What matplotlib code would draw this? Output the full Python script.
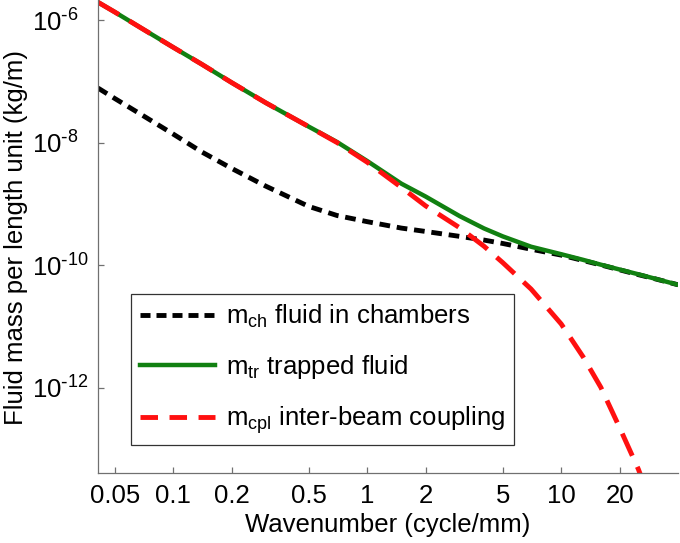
import matplotlib
matplotlib.use('Agg')
import matplotlib.pyplot as plt
from matplotlib.lines import Line2D

plt.rcParams['font.family'] = ['Liberation Sans', 'DejaVu Sans']
plt.rcParams['mathtext.default'] = 'regular'

# values (wavenumber in cycle/mm, mass in kg/m)
wavenumber = [0.041, 0.05, 0.07, 0.1, 0.14, 0.2, 0.3, 0.5, 0.7, 1, 1.5, 2,
              3, 4, 5, 7, 10, 13, 16, 20, 25, 30, 40]
m_ch = [7.76e-8, 5.25e-8, 2.75e-8, 1.38e-8, 7.08e-9, 3.80e-9, 1.95e-9, 9.1e-10,
        6.46e-10, 5.13e-10, 4.03e-10, 3.55e-10, 2.95e-10, 2.57e-10, 2.26e-10,
        1.82e-10, 1.46e-10, 1.19e-10, 1.01e-10, 8.4e-11, 7.0e-11, 6.07e-11, 4.79e-11]
m_tr = [1.95e-6, 1.35e-6, 7.08e-7, 3.59e-7, 1.91e-7, 9.55e-8, 4.47e-8, 1.82e-8,
        1.02e-8, 5.01e-9, 2.14e-9, 1.32e-9, 6.31e-10, 3.98e-10, 2.95e-10,
        2.0e-10, 1.51e-10, 1.22e-10, 1.02e-10, 8.5e-11, 7.1e-11, 6.1e-11, 4.79e-11]
m_cpl = [1.95e-6, 1.35e-6, 7.08e-7, 3.59e-7, 1.91e-7, 9.55e-8, 4.47e-8, 1.82e-8,
         1.0e-8, 4.79e-9, 1.86e-9, 9.3e-10, 4.07e-10, 2.04e-10, 1.10e-10,
         4.07e-11, 1.10e-11, 3.16e-12, 1.02e-12, 2.24e-13, 4.68e-14, 1.0e-14, 5.0e-16]

labels = [r'$m_{ch}$ fluid in chambers',
          r'$m_{tr}$ trapped fluid',
          r'$m_{cpl}$ inter-beam coupling']

xticks = [0.05, 0.1, 0.2, 0.5, 1, 2, 5, 10, 20]
xticklabels = ['0.05', '0.1', '0.2', '0.5', '1', '2', '5', '10', '20']
yticks = [1e-6, 1e-8, 1e-10, 1e-12]
yticklabels = [r'$10^{\text{-}6}$', r'$10^{\text{-}8}$', r'$10^{\text{-}10}$', r'$10^{\text{-}12}$']

fs = 18.5
black, green, red = 'black', '#118011', '#ff1010'

fig = plt.figure(figsize=(6.8, 5.43), dpi=100)
ax = fig.add_axes([98/680, 1 - 473/543, 580/680, 473/543])

ax.loglog(wavenumber, m_ch, color=black, lw=3.5, dashes=(2.2, 1.4))
ax.loglog(wavenumber, m_tr, color=green, lw=3.2)
ax.loglog(wavenumber, m_cpl, color=red, lw=3.5, dashes=(5.0, 2.5))

ax.set_xlim(0.041, 40)
ax.set_ylim(4.07e-14, 2.12e-6)

ax.set_xticks(xticks)
ax.set_xticklabels(xticklabels)
ax.set_yticks(yticks)
ax.set_yticklabels(yticklabels)
ax.minorticks_off()
for lab in ax.get_yticklabels():
    lab.set_horizontalalignment('left')

for s in ['top', 'right']:
    ax.spines[s].set_visible(False)
for s in ['left', 'bottom']:
    ax.spines[s].set_color('#707070')
    ax.spines[s].set_linewidth(0.9)
ax.tick_params(direction='in', length=4, width=0.9, color='#707070', labelsize=fs)
ax.tick_params(axis='x', pad=8)
ax.tick_params(axis='y', pad=47.5)

ax.set_xlabel('Wavenumber (cycle/mm)', fontsize=fs)
ax.xaxis.set_label_coords(0.5, -0.085)
ax.set_ylabel('Fluid mass per length unit (kg/m)', fontsize=fs)
ax.yaxis.set_label_coords(-0.121, 0.497)

# legend keys use shorter dashes, as in the original
handles = [Line2D([], [], color=black, lw=3.5, dashes=(2.06, 1.23)),
           Line2D([], [], color=green, lw=3.2),
           Line2D([], [], color=red, lw=3.5, dashes=(3.6, 2.37))]
leg = ax.legend(handles, labels, loc='upper left',
                bbox_to_anchor=(131/680, 1 - 294/543), bbox_transform=fig.transFigure,
                borderaxespad=0, fontsize=fs, handlelength=2.9, handletextpad=0.45,
                labelspacing=0.9, borderpad=0.35, fancybox=False, framealpha=1)
leg.get_frame().set_edgecolor('#333333')
leg.get_frame().set_linewidth(0.9)

fig.savefig('out.png', dpi=100)
